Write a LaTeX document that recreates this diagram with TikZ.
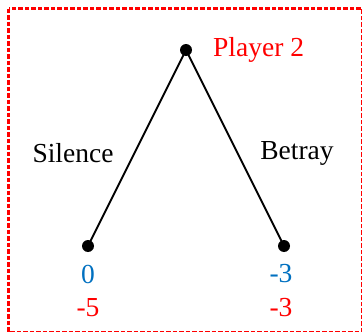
\documentclass[tikz,border=0pt]{standalone}
\usepackage{fontspec}
\setmainfont{Liberation Serif}
\definecolor{payblue}{HTML}{0070C0}
\definecolor{payred}{HTML}{FF0000}
\begin{document}
\begin{tikzpicture}[x=1pt,y=-1pt,
  treenode/.style={circle,fill=black,inner sep=0pt,minimum size=12pt},
  branch/.style={line width=2pt,black},
  lbl/.style={font=\fontsize{27.5}{33}\selectfont,inner sep=0pt},
  frame/.style={draw=payred,line width=2.5pt,dash pattern=on 4.5pt off 2pt}]
  \useasboundingbox (0,0) rectangle (362,332);
  % dashed frame around the game tree
  \draw[frame] (8.5,8.5) rectangle (361.8,331.8);
  % decision node and terminal nodes
  \node[treenode] (root) at (186,50) {};
  \node[treenode] (left) at (88,246) {};
  \node[treenode] (right) at (284,246) {};
  \draw[branch] (root.center) -- (left.center);
  \draw[branch] (root.center) -- (right.center);
  % labels
  \node[lbl,text=payred,anchor=west] (player) at (213,50) {Player 2};
  \node[lbl] (silence) at (73,153) {Silence};
  \node[lbl] (betray) at (297,153) {Betray};
  % payoffs
  \node[lbl,text=payblue] (p1l) at (88,274) {0};
  \node[lbl,text=payred] (p2l) at (88,308) {-5};
  \node[lbl,text=payblue] (p1r) at (281,274) {-3};
  \node[lbl,text=payred] (p2r) at (281,308) {-3};
\end{tikzpicture}
\end{document}
